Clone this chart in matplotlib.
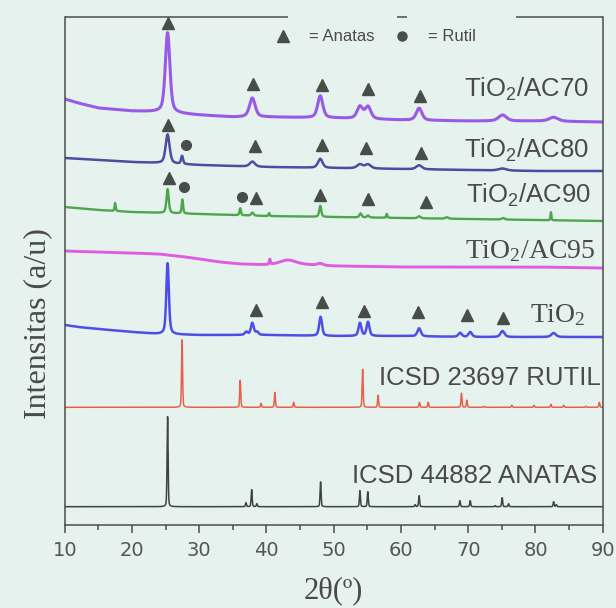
import numpy as np
import matplotlib
matplotlib.use("Agg")
import matplotlib.pyplot as plt
from matplotlib.lines import Line2D

# ---------------- data (2theta in degrees, intensity in a.u.) ----------------
series_names = ["TiO2/AC70", "TiO2/AC80", "TiO2/AC90", "TiO2/AC95", "TiO2",
                "ICSD 23697 RUTIL", "ICSD 44882 ANATAS"]

# background anchors (2theta, intensity) for each stacked pattern
ac70_bg_pos = [10, 12, 15, 20, 24, 30, 35, 40, 50, 60, 70, 80, 90]
ac70_bg_val = [426, 422, 417, 414, 413, 410, 408, 408, 407, 405, 404, 404, 403]
ac80_bg_pos = [10, 15, 20, 24, 30, 40, 50, 60, 70, 80, 90]
ac80_bg_val = [367, 365, 363, 362, 360, 358, 357, 356, 355, 354, 354]
ac90_bg_pos = [10, 15, 20, 25, 30, 40, 50, 60, 70, 80, 90]
ac90_bg_val = [318, 315, 313, 312, 311, 309, 308, 307, 306, 305, 304]
ac95_bg_pos = [10, 15, 20, 24, 28, 30, 33, 36, 40, 46, 50, 60, 70, 80, 90]
ac95_bg_val = [274, 273, 272, 271, 268, 266, 263, 261, 260, 260, 259, 258, 258, 258, 257]
tio2_bg_pos = [10, 12, 15, 20, 24, 30, 40, 50, 60, 70, 80, 90]
tio2_bg_val = [200, 198, 196, 193, 191, 190, 190, 189, 189, 188, 188, 188]
rutil_bg_pos = [10, 90]
rutil_bg_val = [117.7, 117.7]
anatas_bg_pos = [10, 90]
anatas_bg_val = [18.3, 18.3]

# peaks: position, height above background, FWHM
ac70_pk_pos = [25.3, 37.9, 48.0, 53.9, 55.1, 62.7, 75.1, 82.7]
ac70_pk_h   = [80, 19, 22, 12, 12, 12, 6, 4]
ac70_pk_w   = [0.8, 1.0, 0.9, 1.0, 1.0, 1.0, 1.4, 1.6]

ac80_pk_pos = [25.3, 27.45, 37.9, 48.0, 53.9, 55.1, 62.7, 75.1]
ac80_pk_h   = [29, 8, 5, 9, 4, 4, 4, 2]
ac80_pk_w   = [0.7, 0.35, 0.9, 0.8, 1.0, 1.0, 1.0, 1.4]

ac90_pk_pos = [17.5, 25.3, 27.5, 36.1, 37.9, 40.4, 48.0, 54.0, 55.1, 57.9, 62.7, 66.8, 75.2, 82.3]
ac90_pk_h   = [8, 24, 14, 7, 3, 3, 11, 4, 2, 4, 2, 1.5, 1.5, 8]
ac90_pk_w   = [0.2, 0.4, 0.25, 0.25, 0.4, 0.2, 0.35, 0.4, 0.4, 0.2, 0.5, 0.5, 0.5, 0.15]

ac95_pk_pos = [40.5, 43.2, 48.0]
ac95_pk_h   = [5, 5, 2]
ac95_pk_w   = [0.2, 3.0, 1.0]

tio2_pk_pos = [25.3, 37.0, 37.9, 38.6, 48.05, 53.9, 55.1, 62.7, 68.8, 70.3, 75.1, 82.7]
tio2_pk_h   = [71, 3, 12, 3, 19, 13, 14, 8, 4, 5, 6, 4]
tio2_pk_w   = [0.45, 0.5, 0.5, 0.5, 0.5, 0.5, 0.5, 0.6, 0.6, 0.6, 0.7, 0.8]

rutil_pk_pos = [27.45, 36.1, 39.2, 41.25, 44.05, 54.3, 56.6, 62.75, 64.05, 69.0, 69.8, 72.4, 76.5, 79.8, 82.3, 84.2, 87.5, 89.5]
rutil_pk_h   = [68, 27, 4, 15, 5, 38, 12, 5, 5, 14, 7, 1, 2, 2, 3, 2, 1, 5]

anatas_pk_pos = [25.3, 36.95, 37.8, 38.57, 48.05, 53.9, 55.07, 62.12, 62.7, 68.76, 70.3, 74.0, 75.05, 76.0, 82.7, 83.1]
anatas_pk_h   = [90, 4, 17, 3, 25, 16, 15, 2, 11, 6, 6, 1, 9, 3, 5, 2]

ref_fwhm = 0.18

# phase markers (2theta, intensity) for each sample
ac70_anatas_x = [25.3, 38.0, 48.3, 55.1, 62.8]
ac70_anatas_y = [502, 441, 440, 436, 429]
ac80_anatas_x = [25.3, 38.3, 48.2, 54.8, 63.0]
ac80_anatas_y = [400, 379, 380, 377, 372]
ac80_rutil_x = [28.1]
ac80_rutil_y = [380]
ac90_anatas_x = [25.5, 38.4, 48.0, 55.1, 63.7]
ac90_anatas_y = [347, 327, 330, 326, 323]
ac90_rutil_x = [27.7, 36.3]
ac90_rutil_y = [338, 328]
tio2_anatas_x = [38.5, 48.3, 54.5, 62.6, 69.8, 75.15]
tio2_anatas_y = [215, 223, 214, 213, 210, 207]

# label text, anchor x, baseline y
label_texts = ["TiO$\\mathregular{_2}$/AC70", "TiO$\\mathregular{_2}$/AC80",
               "TiO$\\mathregular{_2}$/AC90", "TiO$\\mathregular{_2}$/AC95",
               "TiO$\\mathregular{_2}$", "ICSD 23697 RUTIL", "ICSD 44882 ANATAS"]
label_x = [69.4, 69.4, 69.6, 69.5, 79.2, 89.75, 89.15]
label_y = [427.7, 366.7, 321.7, 267.3, 203.3, 140, 42]
label_ha = ["left", "left", "left", "left", "left", "right", "right"]
label_serif = [False, False, False, True, True, False, False]

colors = ["#9a5ae8", "#4c4ca0", "#4ca64c", "#e05ce0", "#4d4de8", "#e8604c", "#3d4540"]

# ---------------- build curves ----------------
x = np.linspace(10, 90, 4001)


def pv(xx, c, h, w, eta=0.5):
    g = np.exp(-4 * np.log(2) * ((xx - c) / w) ** 2)
    lor = 1.0 / (1.0 + ((xx - c) / (w / 2)) ** 2)
    return h * (eta * lor + (1 - eta) * g)


def pattern(bg_pos, bg_val, pos, hts, wds, eta=0.5):
    y = np.interp(x, bg_pos, bg_val)
    for c, h, w in zip(pos, hts, wds):
        y = y + pv(x, c, h, w, eta)
    return y


curves = [
    pattern(ac70_bg_pos, ac70_bg_val, ac70_pk_pos, ac70_pk_h, ac70_pk_w),
    pattern(ac80_bg_pos, ac80_bg_val, ac80_pk_pos, ac80_pk_h, ac80_pk_w),
    pattern(ac90_bg_pos, ac90_bg_val, ac90_pk_pos, ac90_pk_h, ac90_pk_w),
    pattern(ac95_bg_pos, ac95_bg_val, ac95_pk_pos, ac95_pk_h, ac95_pk_w),
    pattern(tio2_bg_pos, tio2_bg_val, tio2_pk_pos, tio2_pk_h, tio2_pk_w),
    pattern(rutil_bg_pos, rutil_bg_val, rutil_pk_pos, rutil_pk_h,
            [ref_fwhm] * len(rutil_pk_pos), eta=0.3),
    pattern(anatas_bg_pos, anatas_bg_val, anatas_pk_pos, anatas_pk_h,
            [ref_fwhm] * len(anatas_pk_pos), eta=0.3),
]
widths = [2.2, 1.8, 1.7, 2.1, 1.8, 1.1, 1.1]

# ---------------- figure ----------------
bg = "#e6f2ed"
ink = "#4a4f4c"
mark_col = "#474e4a"

fig = plt.figure(figsize=(6.16, 6.08), dpi=100, facecolor=bg)
ax = fig.add_axes([64.7 / 616, 1 - 525.3 / 608, 538 / 616, 508.6 / 608])
ax.set_facecolor(bg)

for yv, col, lw in zip(curves, colors, widths):
    ax.plot(x, yv, color=col, lw=lw, solid_joinstyle="round")

tri_kw = dict(ls="none", marker="^", ms=9, color=mark_col, zorder=5, clip_on=False)
dot_kw = dict(ls="none", marker="o", ms=7, color=mark_col, zorder=5, clip_on=False)
ax.plot(ac70_anatas_x, ac70_anatas_y, **tri_kw)
ax.plot(ac80_anatas_x, ac80_anatas_y, **tri_kw)
ax.plot(ac80_rutil_x, ac80_rutil_y, **dot_kw)
ax.plot(ac90_anatas_x, ac90_anatas_y, **tri_kw)
ax.plot(ac90_rutil_x, ac90_rutil_y, **dot_kw)
ax.plot(tio2_anatas_x, tio2_anatas_y, **tri_kw)

for t, lx, ly, ha, serif in zip(label_texts, label_x, label_y, label_ha, label_serif):
    if serif:
        ax.text(lx, ly, t, ha=ha, va="baseline", fontsize=20,
                family="Liberation Serif", color="#4a4a4a")
    else:
        ax.text(lx, ly, t, ha=ha, va="baseline", fontsize=18.5,
                family="Liberation Sans", color="#4a4a4a")

# legend
handles = [Line2D([], [], ls="none", marker="^", ms=8, color=mark_col, label="= Anatas"),
           Line2D([], [], ls="none", marker="o", ms=6.5, color=mark_col, label="= Rutil")]
leg = ax.legend(handles=handles, loc="upper left", bbox_to_anchor=(0.39, 0.975),
                ncol=2, frameon=False, handlelength=1.0,
                handletextpad=1.05, columnspacing=1.15, borderpad=0, borderaxespad=0,
                prop={"family": "Liberation Sans", "size": 12})
for t in leg.get_texts():
    t.set_color("#4a4a4a")

ax.set_xlim(10, 90)
ax.set_ylim(-0.3, 508.3)
ax.set_xticks(np.arange(10, 91, 10))
ax.set_xticks(np.arange(15, 90, 10), minor=True)
ax.set_yticks([])
ax.tick_params(axis="x", which="major", direction="out", length=6, width=1.1,
               color=ink, labelsize=14, labelcolor="#555555", pad=5)
ax.tick_params(axis="x", which="minor", direction="out", length=3.5, width=1.1, color=ink)

for s in ["left", "right", "bottom"]:
    ax.spines[s].set_color(ink)
    ax.spines[s].set_linewidth(1.1)
ax.spines["top"].set_visible(False)
for a, b in [(0.0, 0.415), (0.618, 0.636), (0.839, 1.0)]:
    ax.plot([a, b], [1, 1], transform=ax.transAxes, clip_on=False,
            color=ink, lw=1.1, solid_capstyle="butt")

ax.set_xlabel("2θ(\u00ba)", fontsize=22, family="Liberation Serif",
              color="#4a4a4a")
ax.xaxis.set_label_coords(0.5, -0.1)
ax.set_ylabel("Intensitas (a/u)", fontsize=23, family="Liberation Serif",
              color="#4a4a4a")
ax.yaxis.set_label_coords(-0.05, 0.396)
ax.yaxis.label.set_verticalalignment("center")

fig.savefig("out.png", dpi=100, facecolor=bg)
